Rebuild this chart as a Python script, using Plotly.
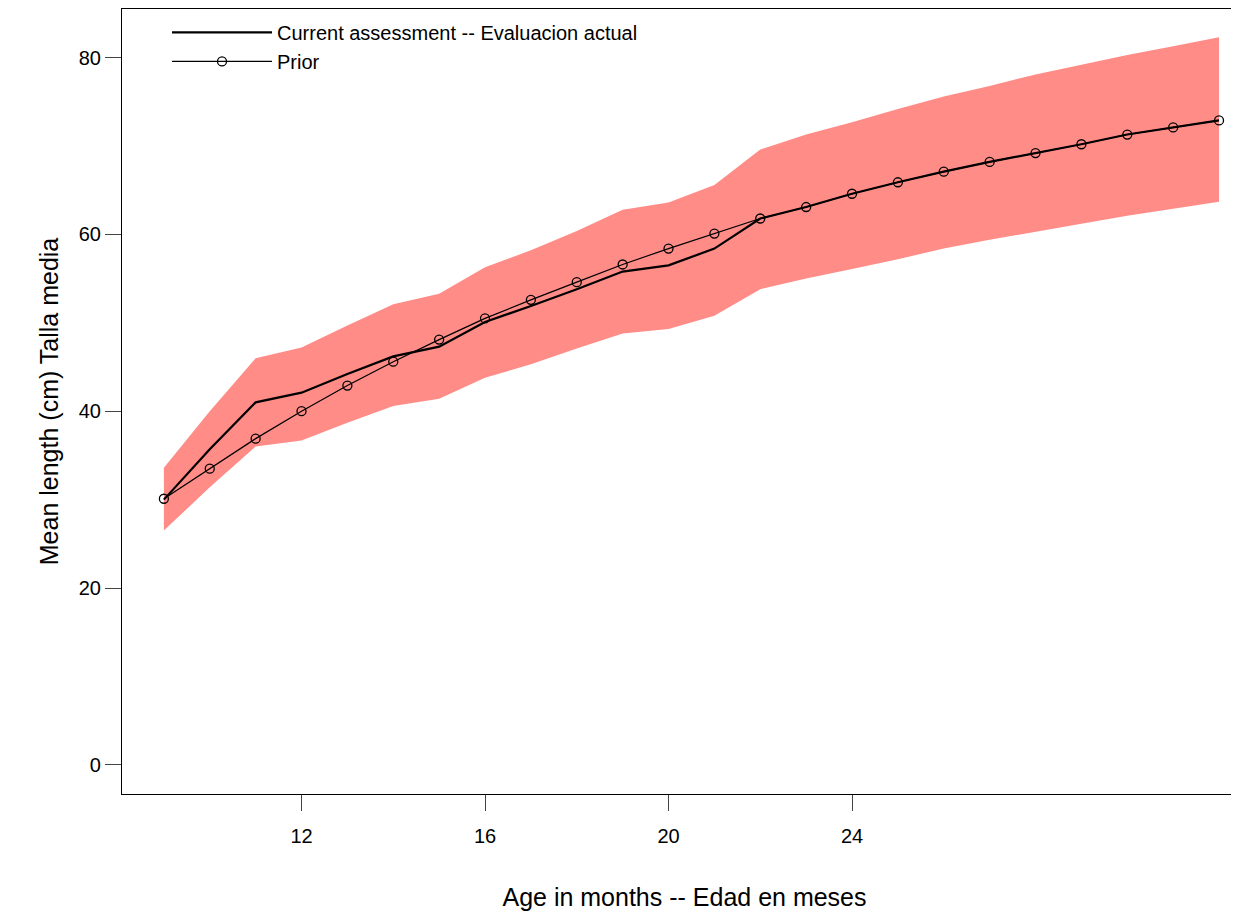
import plotly.graph_objects as go

ages = list(range(9, 33))
prior = [30.1, 33.5, 36.9, 40.0, 42.9, 45.6, 48.1, 50.5, 52.6, 54.6, 56.6, 58.4,
         60.1, 61.8, 63.1, 64.6, 65.9, 67.1, 68.2, 69.2, 70.2, 71.3, 72.1, 72.9]
current = [30.0, 35.7, 41.0, 42.1, 44.2, 46.2, 47.3, 50.1, 51.9, 53.8, 55.8, 56.5,
           58.4, 61.8, 63.1, 64.6, 65.9, 67.1, 68.2, 69.2, 70.2, 71.3, 72.1, 72.9]
upper = [33.6, 40.0, 46.0, 47.2, 49.7, 52.1, 53.3, 56.3, 58.2, 60.4, 62.8, 63.6,
         65.6, 69.6, 71.3, 72.7, 74.2, 75.6, 76.8, 78.1, 79.2, 80.3, 81.3, 82.3]
lower = [26.5, 31.4, 36.0, 36.7, 38.7, 40.6, 41.4, 43.8, 45.3, 47.1, 48.8, 49.3,
         50.8, 53.8, 55.0, 56.1, 57.2, 58.4, 59.4, 60.3, 61.2, 62.1, 62.9, 63.7]

fig = go.Figure()
fig.add_trace(go.Scatter(x=ages + ages[::-1], y=upper + lower[::-1], fill="toself",
                         fillcolor="#ff8c87", line=dict(width=0), mode="lines",
                         showlegend=False, hoverinfo="skip"))
fig.add_trace(go.Scatter(x=ages, y=current, mode="lines", name="Current assessment -- Evaluacion actual",
                         line=dict(color="black", width=2.2)))
fig.add_trace(go.Scatter(x=ages, y=prior, mode="lines+markers", name="Prior",
                         line=dict(color="black", width=1.2),
                         marker=dict(symbol="circle-open", size=9, color="black",
                                     line=dict(width=1.3))))

fig.update_layout(
    width=1239, height=913,
    margin=dict(l=114, r=0, t=1, b=127),
    paper_bgcolor="white", plot_bgcolor="white",
    font=dict(family="Liberation Sans, Arial", size=20, color="black"),
    legend=dict(x=0.04, y=0.995, xanchor="left", yanchor="top", bgcolor="rgba(0,0,0,0)",
                itemwidth=100, tracegroupgap=0, font=dict(size=20)),
)
fig.update_xaxes(range=[8.087, 32.61], tickvals=[12, 16, 20, 24], ticks="outside",
                 ticklen=16, tickwidth=1, showgrid=False, zeroline=False,
                 showline=True, linecolor="black", mirror=True, linewidth=1.2,
                 ticklabelstandoff=8,
                 title=dict(text="Age in months -- Edad en meses", font=dict(size=25), standoff=42))
fig.update_yaxes(range=[-3.3, 85.5], tickvals=[0, 20, 40, 60, 80], ticks="outside",
                 ticklen=16, tickwidth=1, showgrid=False, zeroline=False,
                 showline=True, linecolor="black", mirror=True, linewidth=1.2,
                 title=dict(text="Mean length (cm) Talla media", font=dict(size=25), standoff=12))

fig.write_html("out.html")
